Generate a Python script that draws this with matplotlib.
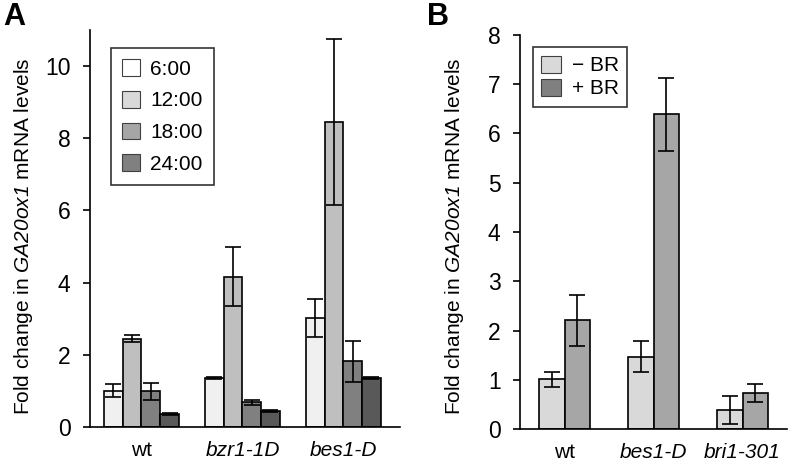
import matplotlib
matplotlib.use("Agg")
import matplotlib.pyplot as plt
from matplotlib.patches import Patch
import numpy as np

plt.rcParams["font.family"] = ["Liberation Sans", "DejaVu Sans"]
## italic gene name: digits in \mathit fall back to rm, so make rm the italic face
plt.rcParams["mathtext.fontset"] = "custom"
plt.rcParams["mathtext.rm"] = "Liberation Sans:italic"
plt.rcParams["mathtext.it"] = "Liberation Sans:italic"

## panel A data
genotypes_a = ["wt", "bzr1-1D", "bes1-D"]
times = ["6:00", "12:00", "18:00", "24:00"]
means_a = {
    "6:00": [1.00, 1.36, 3.02],
    "12:00": [2.45, 4.17, 8.44],
    "18:00": [0.99, 0.68, 1.82],
    "24:00": [0.36, 0.44, 1.36],
}
errs_a = {
    "6:00": [0.18, 0.03, 0.53],
    "12:00": [0.10, 0.81, 2.30],
    "18:00": [0.24, 0.08, 0.56],
    "24:00": [0.02, 0.03, 0.02],
}
bar_colors_a = ["#f0f0f0", "#bfbfbf", "#808080", "#595959"]
legend_colors_a = ["#ffffff", "#d9d9d9", "#a6a6a6", "#808080"]

## panel B data
genotypes_b = ["wt", "bes1-D", "bri1-301"]
treatments = ["\u2212 BR", "+ BR"]
means_b = {
    "\u2212 BR": [1.01, 1.47, 0.39],
    "+ BR": [2.21, 6.39, 0.73],
}
errs_b = {
    "\u2212 BR": [0.15, 0.31, 0.29],
    "+ BR": [0.52, 0.74, 0.18],
}
bar_colors_b = ["#d9d9d9", "#a6a6a6"]
legend_colors_b = ["#d9d9d9", "#808080"]

ylabel = "Fold change in $\\mathrm{GA20ox1}$ mRNA levels"

fig = plt.figure(figsize=(7.92, 4.65), dpi=100)
axA = fig.add_axes([90/792, 1-427/465, 310/792, 397/465])
axB = fig.add_axes([520/792, 1-429/465, 267/792, 394/465])


def style(ax):
    for s in ["top", "right"]:
        ax.spines[s].set_visible(False)
    for s in ["left", "bottom"]:
        ax.spines[s].set_linewidth(1.2)
    ax.tick_params(axis="y", length=5, width=1.2, pad=9, labelsize=16.5)
    ax.tick_params(axis="x", length=0, pad=10, labelsize=15)


def place_ylabel(ax, xpos, ypos):
    ax.set_ylabel(ylabel, fontsize=15)
    ax.yaxis.label.set(ha="center", va="center", rotation_mode="anchor")
    ax.yaxis.set_label_coords(xpos, ypos)


## A
x = np.arange(len(genotypes_a))
w = 0.185
for i, t in enumerate(times):
    pos = x + (i - 1.5) * w
    axA.bar(pos, means_a[t], w, color=bar_colors_a[i], edgecolor="black", linewidth=1.2, zorder=2)
    axA.errorbar(pos, means_a[t], yerr=errs_a[t], fmt="none", ecolor="black",
                 elinewidth=1.2, capsize=6, capthick=1.2, zorder=3)
axA.set_xlim(-0.51, 2.56)
axA.set_ylim(0, 11)
axA.set_yticks([0, 2, 4, 6, 8, 10])
axA.set_xticks(x)
axA.set_xticklabels(genotypes_a)
for lab in axA.get_xticklabels()[1:]:
    lab.set_fontstyle("italic")
style(axA)
place_ylabel(axA, -0.213, 0.48)
handles = [Patch(facecolor=c, edgecolor="#404040", linewidth=0.8) for c in legend_colors_a]
legA = axA.legend(handles, times, loc="upper left", bbox_to_anchor=(0.067, 0.955),
                  fontsize=15, frameon=True, fancybox=False, edgecolor="black",
                  handlelength=0.85, handleheight=0.85, handletextpad=0.5,
                  labelspacing=0.58, borderpad=0.55, borderaxespad=0)
legA.get_frame().set_linewidth(1.2)

## B
x = np.arange(len(genotypes_b))
w = 0.29
for i, t in enumerate(treatments):
    pos = x + (i - 0.5) * w
    axB.bar(pos, means_b[t], w, color=bar_colors_b[i], edgecolor="black", linewidth=1.2, zorder=2)
    axB.errorbar(pos, means_b[t], yerr=errs_b[t], fmt="none", ecolor="black",
                 elinewidth=1.2, capsize=6, capthick=1.2, zorder=3)
axB.set_xlim(-0.5, 2.5)
axB.set_ylim(0, 8)
axB.set_yticks(range(9))
axB.set_xticks(x)
axB.set_xticklabels(genotypes_b)
for lab in axB.get_xticklabels()[1:]:
    lab.set_fontstyle("italic")
style(axB)
place_ylabel(axB, -0.245, 0.489)
handles = [Patch(facecolor=c, edgecolor="#404040", linewidth=0.8) for c in legend_colors_b]
legB = axB.legend(handles, treatments, loc="upper left", bbox_to_anchor=(0.047, 0.97),
                  fontsize=15, frameon=True, fancybox=False, edgecolor="black",
                  handlelength=0.95, handleheight=0.9, handletextpad=0.5,
                  labelspacing=0.15, borderpad=0.42, borderaxespad=0)
legB.get_frame().set_linewidth(1.2)

fig.text(3/792, 1-2/465, "A", fontsize=22, fontweight="bold", va="top", ha="left")
fig.text(427/792, 1-2/465, "B", fontsize=22, fontweight="bold", va="top", ha="left")

fig.savefig("out.png", dpi=100)
